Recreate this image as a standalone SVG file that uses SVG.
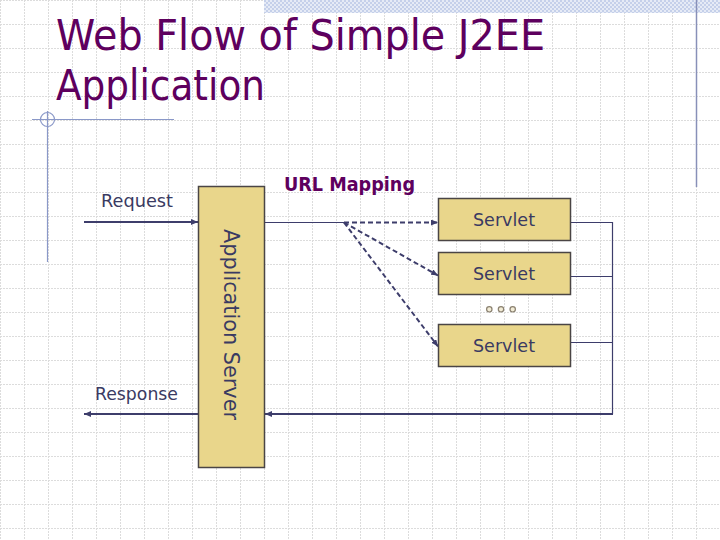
<svg xmlns="http://www.w3.org/2000/svg" width="720" height="540" viewBox="0 0 720 540">
  <defs>
    <pattern id="grid" x="0" y="0" width="24" height="24" patternUnits="userSpaceOnUse">
      <path d="M0.5,0 V24 M0,0.5 H24" fill="none" stroke="#dcdcdc" stroke-width="1" stroke-dasharray="2,1"/>
    </pattern>
    <pattern id="check" x="0" y="0" width="4" height="4" patternUnits="userSpaceOnUse">
      <rect width="4" height="4" fill="#e6ebf6"/>
      <rect width="2" height="2" fill="#c5d0ea"/>
      <rect x="2" y="2" width="2" height="2" fill="#c5d0ea"/>
    </pattern>
    <marker id="arr" markerWidth="7" markerHeight="6" refX="7" refY="3" orient="auto" markerUnits="userSpaceOnUse">
      <path d="M0,0 L7,3 L0,6 z" fill="#3d3d6b"/>
    </marker>
    <style>
      .title { font-family: "DejaVu Sans", "Liberation Sans", sans-serif; font-size: 43px; fill: #5e005e; }
      .lbl { font-family: "DejaVu Sans", "Liberation Sans", sans-serif; font-size: 18px; fill: #3a3a62; }
      .box { fill: #e9d68b; stroke: #4a4545; stroke-width: 1.5; }
      .thick { stroke: #3d3d6b; stroke-width: 2; fill: none; }
      .thin { stroke: #3d3d6b; stroke-width: 1.2; fill: none; }
      .dash { stroke: #3d3d6b; stroke-width: 2; stroke-dasharray: 5,3; fill: none; }
      .deco { stroke: #8a98c8; stroke-width: 1.2; fill: none; }
    </style>
  </defs>

  <!-- background -->
  <rect width="720" height="540" fill="#ffffff"/>
  <rect width="720" height="540" fill="url(#grid)"/>
  <rect x="264" y="0" width="456" height="13" fill="url(#check)"/>
  <line x1="696.5" y1="0" x2="696.5" y2="187" stroke="#8890b8" stroke-width="1.5"/>
  <line class="deco" x1="32" y1="119.5" x2="174" y2="119.5"/>
  <line class="deco" x1="47.5" y1="111" x2="47.5" y2="262"/>
  <circle class="deco" cx="47.5" cy="119.5" r="7"/>

  <!-- title -->
  <text class="title" x="56" y="50" textLength="489" lengthAdjust="spacingAndGlyphs">Web Flow of Simple J2EE</text>
  <text class="title" x="56" y="100" textLength="209" lengthAdjust="spacingAndGlyphs">Application</text>

  <!-- connectors -->
  <g id="connectors">
    <line class="thick" x1="84" y1="222" x2="198" y2="222" marker-end="url(#arr)"/>
    <line class="thick" x1="198" y1="414" x2="84" y2="414" marker-end="url(#arr)"/>
    <line class="thin" x1="264" y1="222.5" x2="344" y2="222.5"/>
    <line class="dash" x1="344" y1="222.5" x2="438" y2="222.5" marker-end="url(#arr)"/>
    <line class="dash" x1="344" y1="222.5" x2="438" y2="275.5" marker-end="url(#arr)"/>
    <line class="dash" x1="344" y1="222.5" x2="438" y2="346.5" marker-end="url(#arr)"/>
    <line class="thin" x1="570.5" y1="222.5" x2="612.5" y2="222.5"/>
    <line class="thin" x1="570.5" y1="276.5" x2="612.5" y2="276.5"/>
    <line class="thin" x1="570.5" y1="342.5" x2="612.5" y2="342.5"/>
    <line class="thin" x1="612.5" y1="222" x2="612.5" y2="414"/>
    <line class="thick" x1="613" y1="414" x2="265" y2="414" marker-end="url(#arr)"/>
  </g>

  <!-- labels -->
  <text class="lbl" x="101" y="207" textLength="72" lengthAdjust="spacingAndGlyphs">Request</text>
  <text class="lbl" x="95" y="400" textLength="83" lengthAdjust="spacingAndGlyphs">Response</text>
  <text x="284" y="190.5" textLength="131" lengthAdjust="spacingAndGlyphs" style="font-family:'DejaVu Sans','Liberation Sans',sans-serif;font-size:20px;font-weight:bold;fill:#5e005e">URL Mapping</text>

  <!-- nodes -->
  <g id="app-server">
    <rect class="box" x="198.5" y="186.5" width="66" height="281"/>
    <text transform="translate(223.5,229) rotate(90)" textLength="191" lengthAdjust="spacingAndGlyphs" style="font-family:'DejaVu Sans','Liberation Sans',sans-serif;font-size:22px;fill:#3a3a62">Application Server</text>
  </g>
  <g id="servlet1">
    <rect class="box" x="438.5" y="198.5" width="132" height="42"/>
    <text class="lbl" x="473" y="226" textLength="62" lengthAdjust="spacingAndGlyphs">Servlet</text>
  </g>
  <g id="servlet2">
    <rect class="box" x="438.5" y="252.5" width="132" height="42"/>
    <text class="lbl" x="473" y="280" textLength="62" lengthAdjust="spacingAndGlyphs">Servlet</text>
  </g>
  <g id="ellipsis">
    <circle cx="489.3" cy="309.3" r="2.7" fill="#f2ecd6" stroke="#8a8070" stroke-width="1.2"/>
    <circle cx="501" cy="309.3" r="2.7" fill="#f2ecd6" stroke="#8a8070" stroke-width="1.2"/>
    <circle cx="512.7" cy="309.3" r="2.7" fill="#f2ecd6" stroke="#8a8070" stroke-width="1.2"/>
  </g>
  <g id="servlet3">
    <rect class="box" x="438.5" y="324.5" width="132" height="42"/>
    <text class="lbl" x="473" y="352" textLength="62" lengthAdjust="spacingAndGlyphs">Servlet</text>
  </g>
</svg>
